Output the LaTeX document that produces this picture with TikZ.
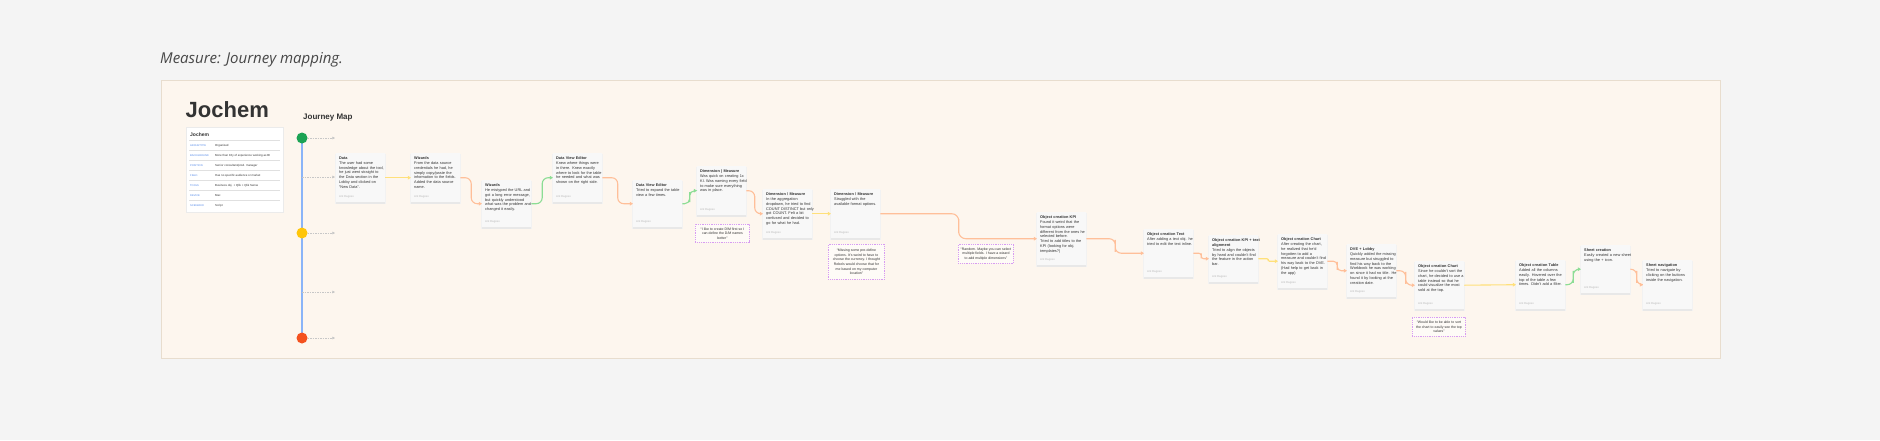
\documentclass[tikz,border=0pt]{standalone}
\usepackage{fontspec}
\setmainfont{Liberation Sans}
\newfontfamily\titlefont{Open Sans}
\usetikzlibrary{arrows.meta,calc}
\definecolor{bgc}{HTML}{F4F4F4}
\definecolor{panelc}{HTML}{FDF6EE}
\definecolor{panelb}{HTML}{E8DDCE}
\definecolor{cardc}{HTML}{F8F8F8}
\definecolor{ylw}{HTML}{FFE07A}
\definecolor{org}{HTML}{FFBF99}
\definecolor{grn}{HTML}{8CDD95}
\definecolor{notec}{HTML}{D79CF2}
\definecolor{tlc}{HTML}{8AB4F8}
\definecolor{cgr}{HTML}{1BA354}
\definecolor{cyl}{HTML}{FFC60A}
\definecolor{crd}{HTML}{F4511E}
\definecolor{txt}{HTML}{333333}
\definecolor{lbl}{HTML}{4F86E8}
\tikzset{
  cardbox/.style={rectangle, fill=cardc, draw=none, minimum width=49pt, inner sep=0pt},
  cardtxt/.style={inner sep=0pt, text width=70pt, align=left, text=txt, font=\fontsize{3.85}{4.9}\selectfont},
  cardfoot/.style={inner sep=0pt, text=black!28, font=\fontsize{2.8}{3}\selectfont},
  link/.style={line width=1.1pt, -{Triangle[length=3.2pt,width=3.6pt]}},
  notebox/.style={rectangle, draw=notec, line width=0.9pt, dash pattern=on 1pt off 0.8pt, fill=white!55!panelc, inner sep=0pt, align=center, text=txt, font=\fontsize{3.5}{4.7}\selectfont},
  tline/.style={draw=tlc, line width=1.2pt},
  tarrow/.style={draw=black!22, line width=0.6pt, dash pattern=on 1.5pt off 1pt, -{Triangle[length=2.6pt,width=2.6pt]}},
  dot/.style={circle, minimum size=11pt, inner sep=0pt},
  plabel/.style={anchor=west, inner sep=0pt, text=lbl, font=\fontsize{2.6}{3}\selectfont},
  pvalue/.style={anchor=west, inner sep=0pt, text=txt, font=\fontsize{2.9}{3.2}\selectfont},
}
\newcommand\jcard[6]{%
  \fill[black!5] (#2-0.8,#3+0.6) rectangle ++(50.6,#4+1.6);
  \fill[black!9] (#2-0.3,#3+1.0) rectangle ++(49.6,#4+0.6);
  \node[cardbox, minimum height=#4pt, anchor=north west] (#1) at (#2,#3) {};
  \node[cardtxt, anchor=north west] at ([shift={(3,3.4)}]#1.north west) {\bfseries #5\\\mdseries #6};
  \node[cardfoot, anchor=south west] at ([shift={(3,-4)}]#1.south west) {Ant Ragoso};
}
\newcommand\jlink[4]{\draw[link,draw=#1,rounded corners=#4pt] (#2.east) -| ($(#2.east)!0.5!(#3.west)$) |- (#3.west);}
\newcommand\jline[3]{\draw[link,draw=#1] (#2.east) -- (#3.west);}
\begin{document}
\begin{tikzpicture}[x=1pt,y=-1pt]
\useasboundingbox (0,0) rectangle (1880,440);
\fill[bgc] (0,0) rectangle (1880,440);
\node[anchor=base west, inner sep=0pt, text=black!72, font=\titlefont\itshape\fontsize{15}{18}\selectfont] (ttl) at (160,63) {Measure: Journey mapping.};
\draw[fill=panelc, draw=panelb, line width=0.8pt] (161,80) rectangle (1720,358);
\node[anchor=base west, inner sep=0pt, text=txt, font=\bfseries\fontsize{22}{24}\selectfont] (name) at (185.5,117) {Jochem};
\node[anchor=base west, inner sep=0pt, text=txt, font=\bfseries\fontsize{8}{9}\selectfont] (jm) at (303,119.5) {Journey Map};
% profile card
\fill[black!6] (185.6,127.8) rectangle (283.6,212.8);
\node[rectangle, fill=white, draw=black!8, line width=0.3pt, minimum width=97pt, minimum height=85pt, anchor=north west, inner sep=0pt] (prof) at (186,127) {};
\node[anchor=west, inner sep=0pt, text=txt, font=\bfseries\fontsize{5}{6}\selectfont] (pt) at (190,135) {Jochem};
\foreach \yy in {140.5,150.5,160.5,170.5,180.5,190.5,200.5}{\draw[black!12, line width=1.1pt] (189,\yy) -- (280,\yy);}
\node[plabel] (l1) at (190,145.8) {ARCHETYPE};
\node[pvalue] (v1) at (215,145.8) {Organized};
\node[plabel] (l2) at (190,155.6) {BACKGROUND};
\node[pvalue] (v2) at (215,155.6) {More than 10y of experience working as BI};
\node[plabel] (l3) at (190,165.6) {POSITION};
\node[pvalue] (v3) at (215,165.6) {Senior consultant/prod. manager};
\node[plabel] (l4) at (190,175.6) {FIELD};
\node[pvalue] (v4) at (215,175.6) {Has no specific audience or market};
\node[plabel] (l5) at (190,185.4) {TOOLS};
\node[pvalue] (v5) at (215,185.4) {Business obj. + Qlik + Qlik Sense};
\node[plabel] (l6) at (190,195.4) {DEVICE};
\node[pvalue] (v6) at (215,195.4) {Mac};
\node[plabel] (l7) at (190,205.3) {SCENARIO};
\node[pvalue] (v7) at (215,205.3) {Script};
% timeline
\coordinate (ttop) at (302,138);
\coordinate (tbot) at (302,338);
\coordinate (tm2) at (302,177);
\coordinate (tm4) at (302,292);
\coordinate (a1) at (335,138);
\coordinate (a2) at (335,177);
\coordinate (a3) at (335,233);
\coordinate (a4) at (335,292);
\coordinate (a5) at (335,338);
\draw[tline] (ttop) -- (tbot);
\node[dot, fill=cgr] (dg) at (ttop) {};
\node[dot, fill=cyl] (dy) at (302,233) {};
\node[dot, fill=crd] (dr) at (tbot) {};
\draw[tarrow] (dg) -- (a1);
\draw[tarrow] (tm2) -- (a2);
\draw[tarrow] (dy) -- (a3);
\draw[tarrow] (tm4) -- (a4);
\draw[tarrow] (dr) -- (a5);
% cards
\jcard{c1}{336}{153}{49}{Data}{The user had some\\knowledge about the tool,\\he just went straight to\\the Data section in the\\Lobby and clicked on\\``New Data''.}
\jcard{c2}{411}{153}{49}{Wizards}{From the data source\\credentials he had, he\\simply copy/paste the\\information to the fields.\\Added the data source\\name.}
\jcard{c3}{482}{180}{47}{Wizards}{He mistyped the URL and\\got a long error message,\\but quickly understood\\what was the problem and\\changed it easily.}
\jcard{c4}{553}{153}{49}{Data View Editor}{Knew where things were\\in there. Knew exactly\\where to look for the table\\he needed and what was\\shown on the right side.}
\jcard{c5}{633}{180}{47}{Data View Editor}{Tried to expand the table\\view a few times.}
\jcard{c6}{697}{166}{49}{Dimension | Measure}{Was quick on creating 1x\\KI. Was naming every field\\to make sure everything\\was in place.}
\jcard{c7}{763}{189}{49}{Dimension / Measure}{In the aggregation\\dropdown, he tried to find\\COUNT DISTINCT but only\\got COUNT. Felt a bit\\confused and decided to\\go for what he had.}
\jcard{c8}{831}{189}{49}{Dimension / Measure}{Struggled with the\\available format options.}
\jcard{c9}{1037}{212}{53}{Object creation KPI}{Found it weird that the\\format options were\\different from the ones he\\selected before.\\Tried to add titles to the\\KPI (looking for obj.\\templates?)}
\jcard{c10}{1144}{229}{48}{Object creation Text}{After adding a text obj. he\\tried to edit the text inline.}
\jcard{c11}{1209}{235}{47}{Object creation KPI + text\\alignment}{Tried to align the objects\\by hand and couldn't find\\the feature in the action\\bar.}
\jcard{c12}{1278}{234}{54}{Object creation Chart}{After creating the chart,\\he realized that he'd\\forgotten to add a\\measure and couldn't find\\his way back to the DVE.\\(Had help to get back in\\the app)}
\jcard{c13}{1347}{244}{53}{DVE + Lobby}{Quickly added the missing\\measure but struggled to\\find his way back to the\\Workbook he was working\\on since it had no title. He\\found it by looking at the\\creation date.}
\jcard{c14}{1415}{261}{48}{Object creation Chart}{Since he couldn't sort the\\chart, he decided to use a\\table instead so that he\\could visualize the most\\sold at the top.}
\jcard{c15}{1516}{260}{49}{Object creation Table}{Added all the columns\\easily. Hovered over the\\top of the table a few\\times. Didn't add a filter.}
\jcard{c16}{1581}{245}{48}{Sheet creation}{Easily created a new sheet\\using the + icon.}
\jcard{c17}{1643}{260}{49}{Sheet navigation}{Tried to navigate by\\clicking on the buttons\\inside the navigation.}
% notes
\node[notebox, minimum width=54pt, minimum height=18pt, anchor=north west] (n1) at (695,224) {``I like to create D/M first so I\\can define the D/M names\\better''};
\node[notebox, minimum width=56pt, minimum height=35pt, anchor=north west] (n2) at (828,244) {``Missing some pre-define\\options. It's weird to have to\\choose the currency. I thought\\Rebels would choose that for\\me based on my computer\\location''};
\node[notebox, minimum width=55pt, minimum height=19pt, anchor=north west] (n3) at (958,244) {``Random. Maybe you can select\\multiple fields. I have a wizard\\to add multiple dimensions''};
\node[notebox, minimum width=53pt, minimum height=19pt, anchor=north west] (n4) at (1412,317) {``Would like to be able to sort\\the chart to easily see the top\\values''};
% connectors
\jline{ylw}{c1}{c2}
\jlink{org}{c2}{c3}{6}
\jlink{grn}{c3}{c4}{6}
\jlink{org}{c4}{c5}{6}
\jlink{grn}{c5}{c6}{5}
\jlink{org}{c6}{c7}{6}
\jline{ylw}{c7}{c8}
\jlink{org}{c8}{c9}{7}
\jlink{org}{c9}{c10}{6}
\jlink{org}{c10}{c11}{2.5}
\jlink{ylw}{c11}{c12}{1.2}
\jlink{org}{c12}{c13}{4}
\jlink{org}{c13}{c14}{6}
\jline{ylw}{c14}{c15}
\jlink{grn}{c15}{c16}{6}
\jlink{org}{c16}{c17}{6}
\end{tikzpicture}
\end{document}
